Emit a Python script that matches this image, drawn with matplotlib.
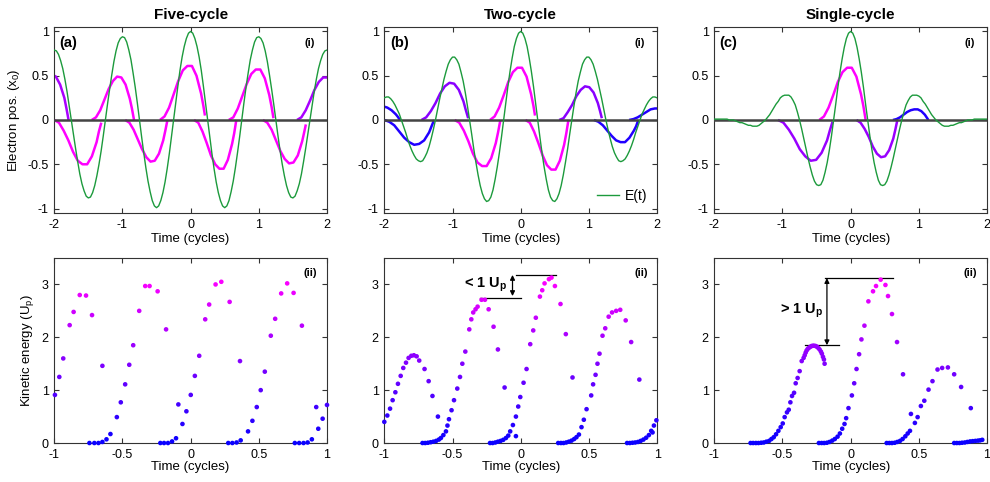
import numpy as np
import matplotlib
matplotlib.use('Agg')
import matplotlib.pyplot as plt
from matplotlib.colors import LinearSegmentedColormap, Normalize

plt.rcParams['font.family'] = ['Liberation Sans', 'DejaVu Sans']
plt.rcParams['mathtext.fontset'] = 'custom'
plt.rcParams['mathtext.rm'] = 'Liberation Sans'
plt.rcParams['mathtext.it'] = 'Liberation Sans:italic'
plt.rcParams['mathtext.bf'] = 'Liberation Sans:bold'
plt.rcParams['mathtext.default'] = 'regular'

# ---------------- top row: driving field E(t), sampled every 1/32 cycle ----------------
t_field = np.linspace(-2, 2, 129)

field_five = [0.79, 0.78, 0.74, 0.67, 0.58, 0.46, 0.32, 0.16,
              0.00, -0.16, -0.32, -0.47, -0.61, -0.72, -0.80, -0.86,
              -0.88, -0.87, -0.82, -0.74, -0.63, -0.50, -0.35, -0.18,
              0.00, 0.18, 0.35, 0.51, 0.66, 0.78, 0.87, 0.92,
              0.94, 0.93, 0.88, 0.79, 0.68, 0.53, 0.37, 0.19,
              0.00, -0.19, -0.37, -0.54, -0.69, -0.81, -0.91, -0.97,
              -0.99, -0.97, -0.91, -0.82, -0.70, -0.55, -0.38, -0.19,
              0.00, 0.19, 0.38, 0.56, 0.71, 0.83, 0.92, 0.98,
              1.00,
              0.98, 0.92, 0.83, 0.71, 0.56, 0.38, 0.19, 0.00,
              -0.19, -0.38, -0.55, -0.70, -0.82, -0.91, -0.97, -0.99,
              -0.97, -0.91, -0.81, -0.69, -0.54, -0.37, -0.19, 0.00,
              0.19, 0.37, 0.53, 0.68, 0.79, 0.88, 0.93, 0.94,
              0.92, 0.87, 0.78, 0.66, 0.51, 0.35, 0.18, 0.00,
              -0.18, -0.35, -0.50, -0.63, -0.74, -0.82, -0.87, -0.88,
              -0.86, -0.80, -0.72, -0.61, -0.47, -0.32, -0.16, 0.00,
              0.16, 0.32, 0.46, 0.58, 0.67, 0.74, 0.78, 0.79]

field_two = [0.25, 0.26, 0.26, 0.24, 0.21, 0.17, 0.12, 0.07,
             0.00, -0.07, -0.14, -0.22, -0.29, -0.35, -0.40, -0.44,
             -0.46, -0.47, -0.46, -0.42, -0.37, -0.30, -0.21, -0.11,
             0.00, 0.12, 0.24, 0.35, 0.46, 0.55, 0.63, 0.68,
             0.71, 0.71, 0.68, 0.63, 0.54, 0.44, 0.31, 0.16,
             0.00, -0.16, -0.33, -0.48, -0.62, -0.74, -0.83, -0.89,
             -0.92, -0.91, -0.87, -0.79, -0.67, -0.53, -0.37, -0.19,
             0.00, 0.19, 0.38, 0.55, 0.70, 0.83, 0.92, 0.98,
             1.00,
             0.98, 0.92, 0.83, 0.70, 0.55, 0.38, 0.19, 0.00,
             -0.19, -0.37, -0.53, -0.67, -0.79, -0.87, -0.91, -0.92,
             -0.89, -0.83, -0.74, -0.62, -0.48, -0.33, -0.16, 0.00,
             0.16, 0.31, 0.44, 0.54, 0.63, 0.68, 0.71, 0.71,
             0.68, 0.63, 0.55, 0.46, 0.35, 0.24, 0.12, 0.00,
             -0.11, -0.21, -0.30, -0.37, -0.42, -0.46, -0.47, -0.46,
             -0.44, -0.40, -0.35, -0.29, -0.22, -0.14, -0.07, 0.00,
             0.07, 0.12, 0.17, 0.21, 0.24, 0.26, 0.26, 0.25]

field_single = [0.01, 0.01, 0.01, 0.01, 0.01, 0.01, 0.01, 0.00,
                0.00, 0.00, -0.01, -0.02, -0.03, -0.03, -0.04, -0.05,
                -0.06, -0.06, -0.07, -0.07, -0.07, -0.06, -0.04, -0.02,
                0.00, 0.03, 0.06, 0.10, 0.14, 0.18, 0.21, 0.25,
                0.27, 0.28, 0.28, 0.28, 0.26, 0.22, 0.17, 0.09,
                0.00, -0.10, -0.21, -0.32, -0.43, -0.53, -0.62, -0.69,
                -0.73, -0.74, -0.73, -0.68, -0.59, -0.48, -0.34, -0.18,
                0.00, 0.18, 0.37, 0.54, 0.69, 0.82, 0.92, 0.98,
                1.00,
                0.98, 0.92, 0.82, 0.69, 0.54, 0.37, 0.18, 0.00,
                -0.18, -0.34, -0.48, -0.59, -0.68, -0.73, -0.74, -0.73,
                -0.69, -0.62, -0.53, -0.43, -0.32, -0.21, -0.10, 0.00,
                0.09, 0.17, 0.22, 0.26, 0.28, 0.28, 0.28, 0.27,
                0.25, 0.21, 0.18, 0.14, 0.10, 0.06, 0.03, 0.00,
                -0.02, -0.04, -0.06, -0.07, -0.07, -0.07, -0.06, -0.06,
                -0.05, -0.04, -0.03, -0.03, -0.02, -0.01, 0.00, 0.00,
                0.00, 0.01, 0.01, 0.01, 0.01, 0.01, 0.01, 0.01]

# electron trajectories: (time, position, return energy used for the colour)
arcs_five = [
    ([-2.0, -1.976, -1.914, -1.852, -1.821, -1.79],
     [0.50, 0.49, 0.40, 0.25, 0.13, 0.0], 2.0),
    ([-2.0, -1.931, -1.862, -1.793, -1.724, -1.655, -1.586, -1.517, -1.448, -1.379, -1.345, -1.31],
     [0, -0.03, -0.12, -0.23, -0.36, -0.46, -0.50, -0.50, -0.41, -0.25, -0.13, -0.03], 3.1),
    ([-1.45, -1.388, -1.326, -1.264, -1.202, -1.14, -1.078, -1.016, -0.954, -0.892, -0.861, -0.83],
     [0, 0.03, 0.11, 0.23, 0.35, 0.44, 0.49, 0.48, 0.40, 0.24, 0.13, 0.0], 3.1),
    ([-0.96, -0.898, -0.836, -0.774, -0.712, -0.65, -0.588, -0.526, -0.464, -0.402, -0.371, -0.34],
     [0, -0.03, -0.11, -0.22, -0.33, -0.42, -0.47, -0.46, -0.38, -0.23, -0.12, 0.0], 3.1),
    ([-0.45, -0.383, -0.316, -0.249, -0.182, -0.115, -0.048, 0.019, 0.086, 0.153, 0.187, 0.21],
     [0, 0.04, 0.14, 0.29, 0.44, 0.56, 0.61, 0.61, 0.50, 0.30, 0.16, 0.05], 3.1),
    ([0.05, 0.112, 0.174, 0.236, 0.298, 0.36, 0.422, 0.484, 0.546, 0.608, 0.639, 0.67],
     [0, -0.03, -0.13, -0.26, -0.40, -0.50, -0.55, -0.55, -0.45, -0.27, -0.15, 0.0], 3.1),
    ([0.56, 0.626, 0.692, 0.758, 0.824, 0.89, 0.956, 1.022, 1.088, 1.154, 1.187, 1.215],
     [0, 0.03, 0.13, 0.27, 0.41, 0.52, 0.57, 0.57, 0.47, 0.28, 0.15, 0.02], 3.1),
    ([1.06, 1.124, 1.188, 1.252, 1.316, 1.38, 1.444, 1.508, 1.572, 1.636, 1.668, 1.69],
     [0, -0.03, -0.11, -0.23, -0.35, -0.44, -0.49, -0.48, -0.40, -0.24, -0.13, -0.05], 3.1),
    ([1.56, 1.624, 1.688, 1.752, 1.816, 1.88, 1.944, 2.0],
     [0, 0.03, 0.11, 0.22, 0.34, 0.43, 0.48, 0.48], 2.0),
]

arcs_two = [
    ([-2.0, -1.956, -1.894, -1.832, -1.801, -1.77],
     [0.15, 0.14, 0.11, 0.065, 0.035, 0.0], 0.3),
    ([-2.0, -1.927, -1.854, -1.781, -1.708, -1.635, -1.562, -1.489, -1.416, -1.343, -1.307, -1.27],
     [0, -0.02, -0.06, -0.13, -0.20, -0.25, -0.28, -0.27, -0.23, -0.14, -0.07, 0.0], 0.3),
    ([-1.455, -1.386, -1.318, -1.25, -1.181, -1.113, -1.044, -0.976, -0.907, -0.839, -0.804, -0.77],
     [0, 0.03, 0.10, 0.19, 0.30, 0.38, 0.42, 0.41, 0.34, 0.21, 0.11, 0.02], 1.6),
    ([-0.968, -0.901, -0.834, -0.767, -0.70, -0.633, -0.566, -0.499, -0.432, -0.365, -0.332, -0.298],
     [0, -0.03, -0.12, -0.24, -0.38, -0.48, -0.52, -0.52, -0.43, -0.26, -0.14, 0.0], 3.1),
    ([-0.45, -0.383, -0.316, -0.249, -0.182, -0.115, -0.048, 0.019, 0.086, 0.153, 0.187, 0.21],
     [0, 0.04, 0.14, 0.28, 0.43, 0.54, 0.59, 0.59, 0.49, 0.29, 0.16, 0.05], 3.1),
    ([0.07, 0.133, 0.196, 0.259, 0.322, 0.385, 0.448, 0.511, 0.574, 0.637, 0.669, 0.70],
     [0, -0.03, -0.13, -0.26, -0.40, -0.51, -0.56, -0.56, -0.46, -0.28, -0.15, 0.0], 3.1),
    ([0.565, 0.628, 0.691, 0.754, 0.817, 0.88, 0.943, 1.006, 1.069, 1.132, 1.164, 1.19],
     [0, 0.02, 0.09, 0.17, 0.27, 0.34, 0.38, 0.37, 0.31, 0.19, 0.10, 0.02], 1.6),
    ([1.075, 1.14, 1.205, 1.27, 1.335, 1.40, 1.465, 1.53, 1.595, 1.66, 1.693, 1.725],
     [0, -0.02, -0.06, -0.12, -0.18, -0.23, -0.25, -0.25, -0.20, -0.12, -0.07, 0.0], 0.3),
    ([1.59, 1.653, 1.716, 1.779, 1.842, 1.905, 1.968, 2.0],
     [0, 0.01, 0.03, 0.06, 0.09, 0.12, 0.13, 0.13], 0.3),
]

arcs_single = [
    ([-1.066, -0.986, -0.906, -0.826, -0.746, -0.666, -0.586, -0.506, -0.426, -0.346, -0.306, -0.266],
     [0, -0.03, -0.11, -0.21, -0.33, -0.41, -0.46, -0.45, -0.37, -0.23, -0.12, -0.02], 1.8),
    ([-0.46, -0.392, -0.324, -0.256, -0.188, -0.12, -0.052, 0.016, 0.084, 0.152, 0.186, 0.22],
     [0, 0.04, 0.14, 0.28, 0.43, 0.54, 0.59, 0.59, 0.49, 0.29, 0.16, 0.0], 3.1),
    ([0.085, 0.145, 0.205, 0.265, 0.325, 0.385, 0.445, 0.505, 0.565, 0.625, 0.655, 0.685],
     [0, -0.03, -0.10, -0.19, -0.30, -0.38, -0.42, -0.41, -0.34, -0.21, -0.11, 0.0], 1.8),
    ([0.62, 0.672, 0.724, 0.776, 0.828, 0.88, 0.932, 0.984, 1.036, 1.088, 1.114, 1.14],
     [0, 0.01, 0.03, 0.06, 0.09, 0.11, 0.12, 0.12, 0.10, 0.06, 0.03, 0.0], 0.3),
]

# ---------------- bottom row: kinetic energy at return (U_p) ----------------
t_five = [-0.995, -0.963, -0.934, -0.887, -0.858, -0.813, -0.767, -0.723, -0.647,
          -0.742, -0.706, -0.676, -0.647, -0.617, -0.588, -0.541, -0.512, -0.480, -0.450, -0.421, -0.377, -0.333,
          -0.301, -0.242, -0.180, -0.090,
          -0.222, -0.195, -0.166, -0.136, -0.107, -0.060, -0.031, 0.001, 0.031, 0.063, 0.107, 0.136, 0.183, 0.225,
          0.286, 0.362,
          0.276, 0.306, 0.337, 0.367, 0.421, 0.453, 0.485, 0.514, 0.544, 0.588, 0.620, 0.664, 0.708, 0.755, 0.816,
          0.921,
          0.764, 0.796, 0.828, 0.858, 0.889, 0.936, 0.968, 1.0]
ke_five = [0.91, 1.25, 1.60, 2.23, 2.48, 2.80, 2.79, 2.42, 1.46,
           0.0, 0.0, 0.0, 0.02, 0.07, 0.17, 0.49, 0.77, 1.11, 1.48, 1.85, 2.50, 2.97, 2.97, 2.87, 2.15, 0.73,
           0.0, 0.0, 0.0, 0.03, 0.09, 0.36, 0.60, 0.91, 1.27, 1.65, 2.34, 2.62, 3.00, 3.05, 2.67, 1.55,
           0.0, 0.0, 0.01, 0.05, 0.22, 0.42, 0.68, 1.00, 1.35, 2.03, 2.35, 2.83, 3.02, 2.84, 2.22, 0.68,
           0.0, 0.0, 0.0, 0.01, 0.07, 0.27, 0.46, 0.72]

t_two = [-1.0, -0.978, -0.958, -0.939, -0.919, -0.900, -0.880, -0.861, -0.841, -0.822, -0.802, -0.783, -0.763,
         -0.744, -0.705, -0.675, -0.647, -0.607,
         -0.720, -0.700, -0.680, -0.660, -0.640, -0.620, -0.600, -0.585, -0.567, -0.548, -0.537, -0.526, -0.507,
         -0.489, -0.465, -0.445, -0.428, -0.406, -0.377, -0.362, -0.348, -0.331, -0.316, -0.287, -0.262, -0.235,
         -0.199, -0.167, -0.118, -0.035,
         -0.225, -0.206, -0.186, -0.167, -0.147, -0.128, -0.108, -0.091, -0.077, -0.057, -0.035, -0.018, -0.003,
         0.021, 0.043, 0.070, 0.092, 0.111, 0.141, 0.158, 0.175, 0.207, 0.226, 0.251, 0.292, 0.331, 0.380,
         0.275, 0.295, 0.314, 0.334, 0.353, 0.373, 0.392, 0.409, 0.427, 0.446, 0.463, 0.483, 0.517, 0.531, 0.549,
         0.563, 0.578, 0.600, 0.620, 0.645, 0.670, 0.700, 0.730, 0.770, 0.810, 0.870, 0.957,
         0.780, 0.800, 0.820, 0.840, 0.860, 0.880, 0.900, 0.920, 0.940, 0.967, 0.977, 0.995]
ke_two = [0.40, 0.52, 0.65, 0.81, 0.96, 1.12, 1.27, 1.42, 1.52, 1.61, 1.65, 1.66, 1.64,
          1.56, 1.40, 1.17, 0.89, 0.50,
          0.0, 0.0, 0.005, 0.015, 0.025, 0.04, 0.065, 0.095, 0.15, 0.22, 0.33, 0.45, 0.62,
          0.81, 1.03, 1.25, 1.50, 1.73, 2.15, 2.34, 2.47, 2.53, 2.58, 2.71, 2.71, 2.53,
          2.20, 1.77, 1.05, 0.13,
          0.0, 0.0, 0.01, 0.025, 0.04, 0.06, 0.095, 0.14, 0.22, 0.34, 0.50, 0.69, 0.87,
          1.14, 1.40, 1.87, 2.13, 2.37, 2.77, 2.89, 3.02, 3.10, 3.13, 2.97, 2.63, 2.06, 1.24,
          0.0, 0.0, 0.0, 0.01, 0.025, 0.045, 0.075, 0.11, 0.16, 0.30, 0.44, 0.64, 0.90, 1.11, 1.29,
          1.50, 1.69, 2.03, 2.17, 2.39, 2.47, 2.50, 2.52, 2.32, 1.91, 1.20, 0.23,
          0.0, 0.0, 0.005, 0.01, 0.02, 0.04, 0.065, 0.10, 0.15, 0.20, 0.33, 0.43]

t_single = [-0.734, -0.715, -0.695, -0.676, -0.656, -0.637, -0.618, -0.598, -0.581, -0.564,
            -0.547, -0.530, -0.513, -0.498, -0.484, -0.467, -0.454, -0.442, -0.430, -0.415,
            -0.403, -0.389, -0.374, -0.359, -0.345, -0.337, -0.330, -0.323, -0.315, -0.306,
            -0.296, -0.286, -0.277, -0.267, -0.257, -0.247, -0.238, -0.228, -0.218, -0.211,
            -0.203, -0.196, -0.191,
            -0.233, -0.213, -0.194, -0.174, -0.155, -0.135, -0.116, -0.096, -0.079, -0.062,
            -0.045, -0.033, -0.016, 0.009, 0.026, 0.043, 0.062, 0.079, 0.101, 0.130,
            0.164, 0.186, 0.220, 0.255, 0.274, 0.303, 0.340, 0.384, 0.442,
            0.264, 0.284, 0.303, 0.323, 0.342, 0.362, 0.381, 0.401, 0.418, 0.435,
            0.471, 0.491, 0.515, 0.540, 0.571, 0.600, 0.637, 0.671, 0.713, 0.759, 0.810, 0.881,
            0.759, 0.778, 0.798, 0.817, 0.837, 0.856, 0.876, 0.895, 0.915, 0.934, 0.950, 0.965]
ke_single = [0.0, 0.0, 0.0, 0.0, 0.005, 0.01, 0.025, 0.04, 0.075, 0.11,
             0.165, 0.23, 0.30, 0.37, 0.49, 0.58, 0.63, 0.77, 0.89, 0.95,
             1.13, 1.23, 1.36, 1.55, 1.61, 1.66, 1.71, 1.75, 1.78, 1.80,
             1.82, 1.835, 1.84, 1.84, 1.835, 1.82, 1.80, 1.77, 1.73, 1.69,
             1.63, 1.58, 1.50,
             0.0, 0.0, 0.0, 0.005, 0.02, 0.045, 0.076, 0.12, 0.18, 0.27,
             0.36, 0.47, 0.66, 0.90, 1.13, 1.40, 1.68, 1.96, 2.22, 2.68,
             2.87, 2.97, 3.09, 2.99, 2.78, 2.44, 1.91, 1.30, 0.55,
             0.0, 0.0, 0.0, 0.005, 0.02, 0.04, 0.076, 0.127, 0.18, 0.23,
             0.38, 0.49, 0.70, 0.80, 1.01, 1.17, 1.39, 1.42, 1.43, 1.30, 1.06, 0.66,
             0.0, 0.0, 0.0, 0.005, 0.01, 0.02, 0.03, 0.035, 0.04, 0.045, 0.05, 0.06]

titles = ['Five-cycle', 'Two-cycle', 'Single-cycle']
tags = ['(a)', '(b)', '(c)']
fields = [field_five, field_two, field_single]
arcs = [arcs_five, arcs_two, arcs_single]
scatters = [(t_five, ke_five), (t_two, ke_two), (t_single, ke_single)]

cmap = LinearSegmentedColormap.from_list('kin', ['#0a00ff', '#ff00ff'])
norm = Normalize(vmin=0, vmax=3.1)
green = '#1c9a3c'
frame = '#333333'


def style_axes(ax):
    ax.tick_params(direction='in', top=True, right=True, length=3.5, width=0.8,
                   labelsize=9, color=frame, pad=4)
    for sp in ax.spines.values():
        sp.set_color(frame)
        sp.set_linewidth(0.8)


fig = plt.figure(figsize=(9.9, 4.82), dpi=100)
lefts = [0.0548, 0.3882, 0.7215]
width = 0.2755

for i in range(3):
    # ---- electron position ----
    ax = fig.add_axes([lefts[i], 0.5581, width, 0.3859])
    for t, x, lvl in arcs[i]:
        ax.plot(t, x, color=cmap(norm(lvl)), lw=1.8, zorder=2, solid_capstyle='butt')
    ax.axhline(0, color='#444444', lw=1.8, zorder=3)
    ax.plot(t_field, fields[i], color=green, lw=1.0, zorder=4, label='E(t)')
    ax.set_xlim(-2, 2)
    ax.set_ylim(-1.05, 1.05)
    ax.set_xticks([-2, -1, 0, 1, 2])
    ax.set_yticks([-1, -0.5, 0, 0.5, 1])
    ax.set_yticklabels(['-1', '-0.5', '0', '0.5', '1'])
    ax.set_xticklabels(['-2', '-1', '0', '1', '2'])
    style_axes(ax)
    ax.set_xlabel('Time (cycles)', fontsize=9.5, labelpad=2)
    ax.set_title(titles[i], fontsize=11, fontweight='bold', pad=6)
    ax.text(0.02, 0.915, tags[i], transform=ax.transAxes, fontsize=10.5,
            fontweight='bold', ha='left', va='center')
    ax.text(0.955, 0.915, '(i)', transform=ax.transAxes, fontsize=8,
            fontweight='bold', ha='right', va='center')
    if i == 0:
        ax.set_ylabel('Electron pos. (x$_0$)', fontsize=9.5)
    if i == 1:
        ax.legend(loc='lower right', frameon=False, fontsize=10, handlelength=1.6,
                  handletextpad=0.4, borderaxespad=0.3)

    # ---- kinetic energy ----
    bx = fig.add_axes([lefts[i], 0.0809, width, 0.3838])
    t, ke = scatters[i]
    bx.scatter(t, ke, c=ke, cmap=cmap, norm=norm, s=11, linewidths=0, zorder=3, clip_on=False)
    bx.set_xlim(-1, 1)
    bx.set_ylim(0, 3.5)
    bx.set_xticks([-1, -0.5, 0, 0.5, 1])
    bx.set_xticklabels(['-1', '-0.5', '0', '0.5', '1'])
    bx.set_yticks([0, 1, 2, 3])
    style_axes(bx)
    bx.set_xlabel('Time (cycles)', fontsize=9.5, labelpad=0)
    bx.text(0.965, 0.92, '(ii)', transform=bx.transAxes, fontsize=8,
            fontweight='bold', ha='right', va='center')
    if i == 0:
        bx.set_ylabel('Kinetic energy (U$_p$)', fontsize=9.5)
    if i == 1:
        bx.plot([-0.035, 0.258], [3.18, 3.18], color='k', lw=0.9)
        bx.plot([-0.30, 0.0], [2.75, 2.75], color='k', lw=0.9)
        bx.annotate('', xy=(-0.06, 3.18), xytext=(-0.06, 2.78),
                    arrowprops=dict(arrowstyle='<|-|>', color='k', lw=0.9,
                                    mutation_scale=7, shrinkA=0, shrinkB=0))
        bx.text(-0.10, 3.0, r'< 1 U$_\mathbf{p}$', fontsize=10.5, fontweight='bold',
                ha='right', va='center')
    if i == 2:
        bx.plot([-0.186, 0.308], [3.12, 3.12], color='k', lw=0.9)
        bx.plot([-0.337, -0.086], [1.85, 1.85], color='k', lw=0.9)
        bx.annotate('', xy=(-0.174, 3.12), xytext=(-0.174, 1.85),
                    arrowprops=dict(arrowstyle='<|-|>', color='k', lw=0.9,
                                    mutation_scale=7, shrinkA=0, shrinkB=0))
        bx.text(-0.20, 2.5, r'> 1 U$_\mathbf{p}$', fontsize=10.5, fontweight='bold',
                ha='right', va='center')

fig.savefig('out.png', dpi=100)
